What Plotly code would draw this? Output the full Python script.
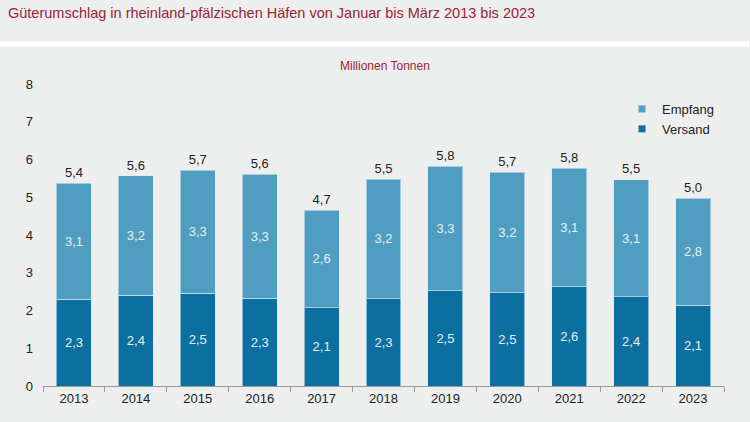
import plotly.graph_objects as go

years = ["2013", "2014", "2015", "2016", "2017", "2018", "2019", "2020", "2021", "2022", "2023"]
versand = [2.30, 2.40, 2.46, 2.32, 2.07, 2.31, 2.52, 2.47, 2.63, 2.36, 2.14]
empfang = [3.07, 3.17, 3.26, 3.29, 2.59, 3.17, 3.30, 3.19, 3.14, 3.11, 2.84]
totals = [round(v + e, 2) for v, e in zip(versand, empfang)]

def de(v):
    return f"{v:.1f}".replace(".", ",")

BG = "#EDEFEE"
RED = "#9B2335"
C_EMP = "#4F9DC0"
C_VER = "#0B6FA0"
TXT = "#222222"
FONT = "Liberation Sans, Arial"

fig = go.Figure()
fig.add_trace(go.Bar(
    x=years, y=versand, name="Versand", marker_color=C_VER,
    marker_line=dict(color="rgba(220,235,242,0.6)", width=1),
    text=[de(v) for v in versand], textposition="inside", insidetextanchor="middle",
    textfont=dict(color="#E6F0F5", size=13, family=FONT),
    showlegend=False, hoverinfo="skip"))
fig.add_trace(go.Bar(
    x=years, y=empfang, name="Empfang", marker_color=C_EMP,
    marker_line=dict(color="rgba(220,235,242,0.6)", width=1),
    text=[de(v) for v in empfang], textposition="inside", insidetextanchor="middle",
    textfont=dict(color="#E6F0F5", size=13, family=FONT),
    showlegend=False, hoverinfo="skip"))
fig.add_trace(go.Scatter(
    x=years, y=totals, mode="markers+text", text=[de(t) for t in totals],
    marker=dict(size=3, opacity=0),
    textposition="top center", textfont=dict(color=TXT, size=13, family=FONT),
    showlegend=False, hoverinfo="skip", cliponaxis=False))
# legend entries
fig.add_trace(go.Scatter(x=[None], y=[None], mode="markers", name="Versand", legendgroup="v",
                         marker=dict(symbol="square", size=7, color=C_VER)))
fig.add_trace(go.Scatter(x=[None], y=[None], mode="markers", name="Empfang", legendgroup="e",
                         marker=dict(symbol="square", size=7, color=C_EMP)))

H = 422
T, B = 84, 36
ph = H - T - B

def py(p):
    return (H - B - p) / ph

L, R = 43, 26
pw = 750 - L - R

def px(p):
    return (p - L) / pw

fig.update_layout(
    width=750, height=422,
    margin=dict(l=L, r=R, t=T, b=B),
    paper_bgcolor=BG, plot_bgcolor=BG,
    barmode="stack", bargap=0.435,
    font=dict(family=FONT, color=TXT, size=13),
    legend=dict(traceorder="reversed", x=px(622), y=py(94), xanchor="left", yanchor="top",
                bgcolor="rgba(0,0,0,0)", font=dict(size=13, color=TXT),
                itemwidth=30, tracegroupgap=8),
    xaxis=dict(range=[-0.5, len(years) - 0.5], showline=True, linecolor="#999999", linewidth=1,
               ticks="outside", tickson="boundaries", ticklen=5, tickcolor="#999999",
               tickfont=dict(size=13, color=TXT), showgrid=False, fixedrange=True),
    yaxis=dict(range=[0, 8], dtick=1, showgrid=False, zeroline=False, showline=False,
               tickfont=dict(size=13, color=TXT), ticklabelstandoff=9, fixedrange=True),
    shapes=[dict(type="rect", xref="paper", yref="paper",
                 x0=px(0), x1=px(749), y0=py(47), y1=py(41),
                 fillcolor="white", line_width=0, layer="below")],
    annotations=[
        dict(text="Güterumschlag in rheinland-pfälzischen Häfen von Januar bis März 2013 bis 2023",
             xref="paper", yref="paper", x=px(6), y=py(13), xanchor="left", yanchor="middle",
             showarrow=False, font=dict(size=14.5, color=RED, family=FONT)),
        dict(text="Millionen Tonnen", xref="paper", yref="paper", x=px(385), y=py(66),
             xanchor="center", yanchor="middle", showarrow=False,
             font=dict(size=12, color=RED, family=FONT)),
    ],
)

fig.write_html("out.html", config={"displayModeBar": False},
               post_script="document.body.style.margin='0';")
